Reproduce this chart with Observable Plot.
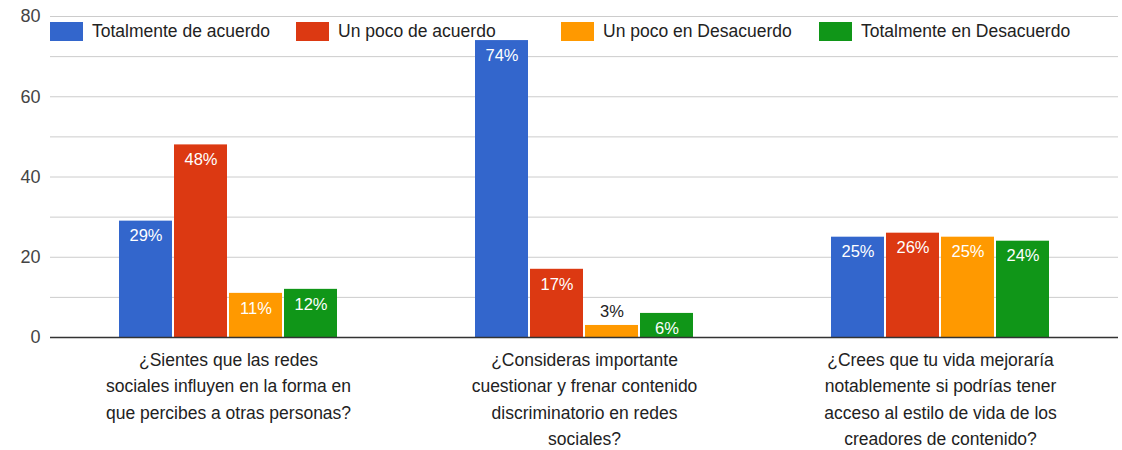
<!DOCTYPE html>
<html>
<head>
<meta charset="utf-8">
<script src="https://cdn.jsdelivr.net/npm/d3@7"></script>
<script src="https://cdn.jsdelivr.net/npm/@observablehq/plot@0.6"></script>
<style>
  html, body { margin: 0; padding: 0; background: #fff; }
  #wrap { position: relative; width: 1122px; height: 450px; font-family: "Liberation Sans", Arial, sans-serif; }
  .item { position: absolute; top: 21px; display: flex; align-items: center; font-size: 17.5px; color: #222; white-space: nowrap; }
  .sw { width: 33px; height: 19px; margin-right: 9px; }
</style>
</head>
<body>
<div id="wrap"></div>
<script>
const questions = [
  "¿Sientes que las redes sociales influyen en la forma en que percibes a otras personas?",
  "¿Consideras importante cuestionar y frenar contenido discriminatorio en redes sociales?",
  "¿Crees que tu vida mejoraría notablemente si podrías tener acceso al estilo de vida de los creadores de contenido?"
];
const questionLines = [
  "¿Sientes que las redes\nsociales influyen en la forma en\nque percibes a otras personas?",
  "¿Consideras importante\ncuestionar y frenar contenido\ndiscriminatorio en redes\nsociales?",
  "¿Crees que tu vida mejoraría\nnotablemente si podrías tener\nacceso al estilo de vida de los\ncreadores de contenido?"
];
const series = ["Totalmente de acuerdo", "Un poco de acuerdo", "Un poco en Desacuerdo", "Totalmente en Desacuerdo"];
const colors = ["#3366cc", "#dc3912", "#ff9900", "#109618"];
const q1Values = [29, 48, 11, 12];
const q2Values = [74, 17, 3, 6];
const q3Values = [25, 26, 25, 24];
const yTicks = [0, 20, 40, 60, 80];
const gridValues = [10, 20, 30, 40, 50, 60, 70, 80];

const allValues = [q1Values, q2Values, q3Values];
const rows = [];
questions.forEach((q, i) => {
  series.forEach((s, j) => {
    rows.push({question: q, series: s, value: allValues[i][j]});
  });
});
const labelMap = new Map(questions.map((q, i) => [q, questionLines[i]]));

const chart = Plot.plot({
  width: 1122,
  height: 450,
  marginLeft: 50,
  marginRight: 4,
  marginTop: 16,
  marginBottom: 113,
  style: {fontFamily: "'Liberation Sans', Arial, sans-serif", background: "transparent"},
  fx: {domain: questions, paddingInner: 0, paddingOuter: 0, axis: null},
  x: {domain: series, paddingInner: 0.036, paddingOuter: 1.225, axis: null},
  y: {domain: [0, 80], axis: null},
  color: {domain: series, range: colors},
  marks: [
    Plot.ruleY(gridValues, {stroke: "#cccccc", strokeWidth: 1}),
    Plot.barY(rows, {fx: "question", x: "series", y: "value", fill: "series"}),
    Plot.text(rows.filter(d => d.value >= 5), {
      fx: "question", x: "series", y: "value",
      text: d => d.value + "%", dy: 15, fill: "white", fontSize: 16.5, lineAnchor: "middle"
    }),
    Plot.text(rows.filter(d => d.value < 5), {
      fx: "question", x: "series", y: "value",
      text: d => d.value + "%", dy: -14, fill: "#222", fontSize: 16.5, lineAnchor: "middle"
    }),
    Plot.ruleY([0], {stroke: "#333", strokeWidth: 1.5}),
    Plot.axisY({ticks: yTicks, tickSize: 0, tickPadding: 10, fontSize: 18, fill: "#444", label: null}),
    Plot.text(questions, {
      fx: d => d, text: d => labelMap.get(d), frameAnchor: "bottom",
      lineAnchor: "top", dy: 10, fontSize: 17.5, lineHeight: 1.5, fill: "#222"
    })
  ]
});
const wrap = document.getElementById("wrap");
wrap.appendChild(chart);

const legendLeft = [50, 296, 561, 819];
series.forEach((s, i) => {
  const item = document.createElement("div");
  item.className = "item";
  item.style.left = legendLeft[i] + "px";
  const sw = document.createElement("div");
  sw.className = "sw";
  sw.style.background = colors[i];
  const t = document.createElement("span");
  t.textContent = s;
  item.appendChild(sw);
  item.appendChild(t);
  wrap.appendChild(item);
});
</script>
</body>
</html>
